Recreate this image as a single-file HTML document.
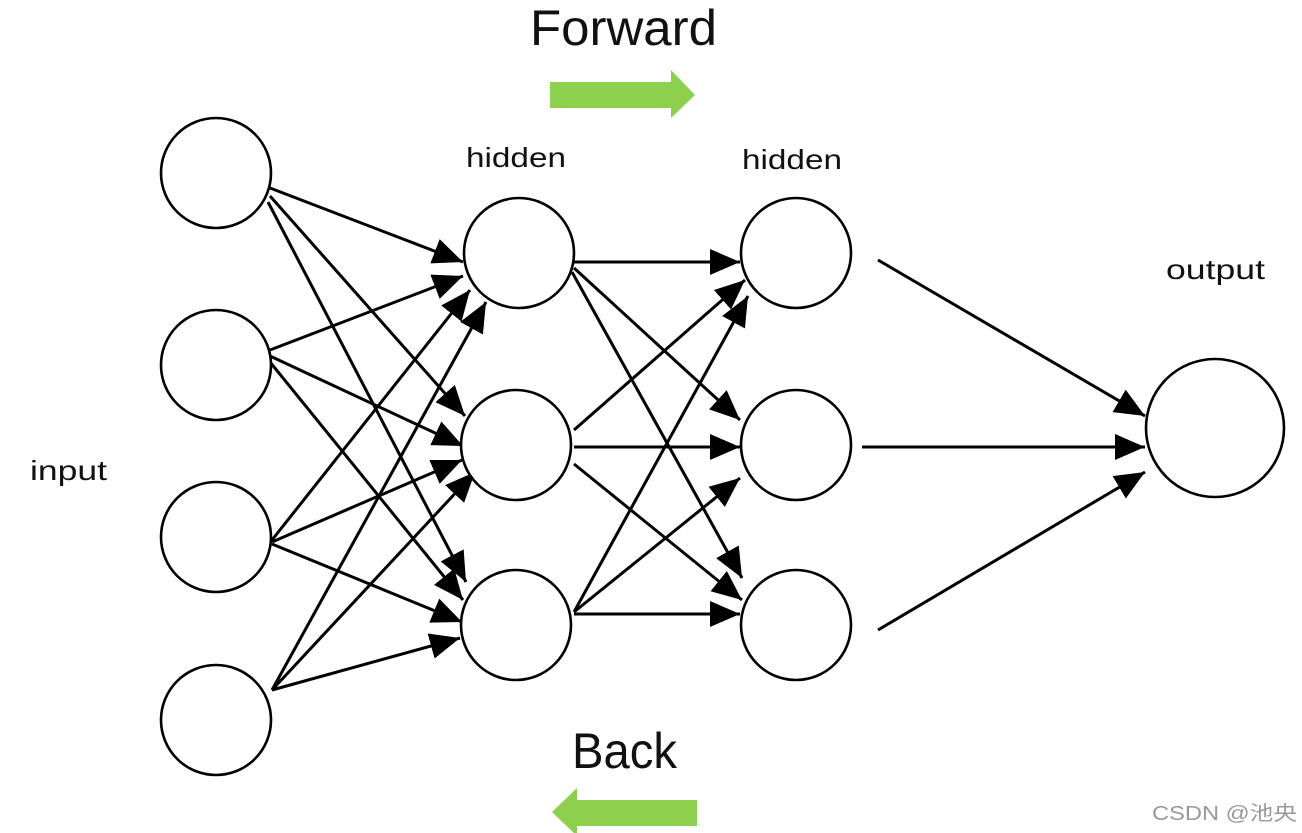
<!DOCTYPE html>
<html><head><meta charset="utf-8"><style>
html,body{margin:0;padding:0;background:#fff;}
svg{display:block;}
text{font-family:"Liberation Sans","DejaVu Sans","Noto Sans CJK SC",sans-serif;fill:#111;}
</style></head><body>
<svg width="1302" height="833" viewBox="0 0 1302 833" xmlns="http://www.w3.org/2000/svg">
<defs>
<marker id="a" markerUnits="userSpaceOnUse" markerWidth="34" markerHeight="28" refX="30" refY="13" orient="auto">
<path d="M0,0 L30,13 L0,26 Z" fill="#000"/>
</marker>
</defs>
<g stroke="#000" stroke-width="3" marker-end="url(#a)">
<!-- input1 -->
<line x1="270" y1="188" x2="463" y2="262"/>
<line x1="270" y1="196" x2="465" y2="416"/>
<line x1="268" y1="202" x2="466" y2="582"/>
<!-- input2 -->
<line x1="270" y1="350" x2="463" y2="276"/>
<line x1="270" y1="356" x2="463" y2="446"/>
<line x1="270" y1="362" x2="463" y2="600"/>
<!-- input3 -->
<line x1="272" y1="540" x2="470" y2="290"/>
<line x1="272" y1="542" x2="462" y2="460"/>
<line x1="272" y1="544" x2="462" y2="622"/>
<!-- input4 -->
<line x1="272" y1="690" x2="486" y2="302"/>
<line x1="272" y1="690" x2="475" y2="472"/>
<line x1="272" y1="690" x2="460" y2="638"/>
<!-- hidden1 -->
<line x1="574" y1="262" x2="740" y2="262"/>
<line x1="574" y1="268" x2="740" y2="420"/>
<line x1="572" y1="272" x2="742" y2="578"/>
<!-- hidden2 -->
<line x1="574" y1="430" x2="745" y2="280"/>
<line x1="574" y1="447" x2="740" y2="447"/>
<line x1="574" y1="464" x2="742" y2="600"/>
<!-- hidden3 -->
<line x1="574" y1="612" x2="748" y2="296"/>
<line x1="574" y1="612" x2="740" y2="478"/>
<line x1="574" y1="614" x2="740" y2="614"/>
<!-- to output -->
<line x1="878" y1="260" x2="1145" y2="416"/>
<line x1="862" y1="447" x2="1145" y2="447"/>
<line x1="878" y1="630" x2="1145" y2="472"/>
</g>
<g fill="#fff" stroke="#000" stroke-width="2.6">
<circle cx="216" cy="173" r="55"/>
<circle cx="216" cy="365" r="55"/>
<circle cx="216" cy="537" r="55"/>
<circle cx="216" cy="720" r="55"/>
<circle cx="519" cy="253" r="55"/>
<circle cx="516" cy="445" r="55"/>
<circle cx="516" cy="625" r="55"/>
<circle cx="796" cy="253" r="55"/>
<circle cx="796" cy="445" r="55"/>
<circle cx="796" cy="625" r="55"/>
<circle cx="1215" cy="428" r="69"/>
</g>
<text x="530" y="45" font-size="50" textLength="187" lengthAdjust="spacingAndGlyphs">Forward</text>
<text x="572" y="768" font-size="50" textLength="105" lengthAdjust="spacingAndGlyphs">Back</text>
<text x="466" y="167" font-size="28" textLength="100" lengthAdjust="spacingAndGlyphs">hidden</text>
<text x="742" y="169" font-size="28" textLength="100" lengthAdjust="spacingAndGlyphs">hidden</text>
<text x="1166" y="279" font-size="28" textLength="99" lengthAdjust="spacingAndGlyphs">output</text>
<text x="30" y="480" font-size="28" textLength="77" lengthAdjust="spacingAndGlyphs">input</text>
<text x="1152" y="820" font-size="20" textLength="145" lengthAdjust="spacingAndGlyphs" style="fill:#999">CSDN @池央</text>
<path d="M550,82 L671,82 L671,70 L695,95 L671,118 L671,108 L550,108 Z" fill="#8cd04e"/>
<path d="M697,800 L577,800 L577,788 L552,812 L577,836 L577,826 L697,826 Z" fill="#8cd04e"/>
</svg>
</body></html>
